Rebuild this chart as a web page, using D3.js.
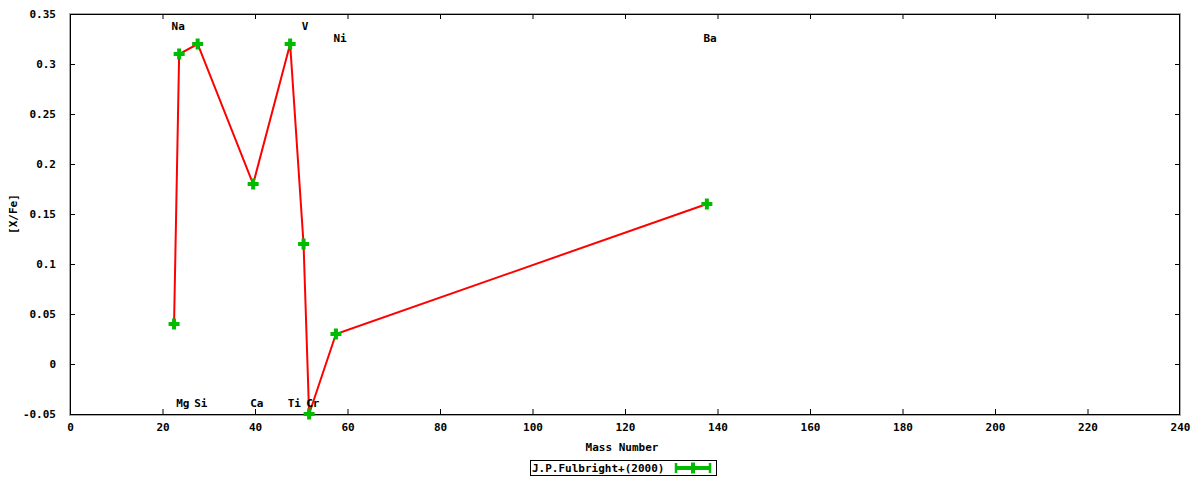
<!DOCTYPE html>
<html><head><meta charset="utf-8">
<script src="https://cdn.jsdelivr.net/npm/d3@7"></script>
<style>
html,body{margin:0;padding:0;background:#fff;}
text{font-family:"DejaVu Sans Mono",monospace;font-size:11px;font-weight:bold;fill:#000;}
</style></head>
<body><svg id="c" width="1200" height="480"></svg>
<script>
// data
const massNumber = [22.5, 23.6, 27.6, 39.6, 47.6, 50.5, 51.7, 57.5, 137.7];
const xFe        = [0.04, 0.31, 0.32, 0.18, 0.32, 0.12, -0.05, 0.03, 0.16];
const elements   = ["Na", "Mg", "Si", "Ca", "Ti", "V", "Cr", "Ni", "Ba"];
const labelX     = [23.4, 24.4, 28.3, 40.4, 48.5, 50.8, 52.5, 58.4, 138.4];
const labelY     = [0.338, -0.039, -0.039, -0.039, -0.039, 0.338, -0.039, 0.326, 0.326];
const xTicks = [0,20,40,60,80,100,120,140,160,180,200,220,240];
const yTicks = [-0.05,0,0.05,0.1,0.15,0.2,0.25,0.3,0.35];
const yTickLabels = ["-0.05","0","0.05","0.1","0.15","0.2","0.25","0.3","0.35"];
const legendLabel = "J.P.Fulbright+(2000)";

const L=70, R=1180, T=14, B=414;
const svg = d3.select("#c");
svg.append("rect").attr("width",1200).attr("height",480).attr("fill","#fff");
const x = d3.scaleLinear().domain([0,240]).range([L,R]);
const y = d3.scaleLinear().domain([-0.05,0.35]).range([B,T]);

// axes with inward ticks
const gx = svg.append("g").attr("transform",`translate(0,${B})`)
  .call(d3.axisBottom(x).tickValues(xTicks).tickSizeInner(-5).tickSizeOuter(0).tickPadding(9).tickFormat(d3.format("d")));
const gxt = svg.append("g").attr("transform",`translate(0,${T})`)
  .call(d3.axisTop(x).tickValues(xTicks).tickSizeInner(-5).tickSizeOuter(0).tickFormat(""));
const gy = svg.append("g").attr("transform",`translate(${L},0)`)
  .call(d3.axisLeft(y).tickValues(yTicks).tickSizeInner(-5).tickSizeOuter(0).tickPadding(14).tickFormat((d,i)=>yTickLabels[i]));
const gyr = svg.append("g").attr("transform",`translate(${R},0)`)
  .call(d3.axisRight(y).tickValues(yTicks).tickSizeInner(-5).tickSizeOuter(0).tickFormat(""));
[gx,gxt,gy,gyr].forEach(g=>{
  g.select(".domain").remove();
  g.selectAll("line").attr("stroke","#000");
  g.selectAll("text").attr("font-family",null).attr("font-size",null).style("font-weight","bold").attr("fill","#000");
});
gx.selectAll("text").attr("dy","0.32em").attr("y",13);

// border
svg.append("rect").attr("x",L+0.5).attr("y",T+0.5).attr("width",R-L-1).attr("height",B-T)
  .attr("fill","none").attr("stroke","#000").attr("stroke-width",1);
svg.append("rect").attr("x",L-0.5).attr("y",T-0.5).attr("width",R-L+1).attr("height",B-T+2)
  .attr("fill","none").attr("stroke","#aaa").attr("stroke-width",1);

// axis titles
svg.append("text").attr("x",622).attr("y",447).attr("dy","0.35em").attr("text-anchor","middle").text("Mass Number");
svg.append("text").attr("transform","translate(13,214) rotate(-90)").attr("dy","0.35em").attr("text-anchor","middle").text("[X/Fe]");

// data
const pts = massNumber.map((m,i)=>({m, v:xFe[i]}));
svg.append("path").datum(pts)
  .attr("d", d3.line().x(d=>x(d.m)).y(d=>y(d.v)))
  .attr("fill","none").attr("stroke","#ff0000").attr("stroke-width",2);

const plus = "M-2,-5.5H2V-2H5.5V2H2V5.5H-2V2H-5.5V-2H-2Z";
svg.selectAll(".pt").data(pts).join("path").attr("class","pt")
  .attr("transform",d=>`translate(${x(d.m)},${y(d.v)})`)
  .attr("d",plus).attr("fill","#00bb00");

// element labels
svg.selectAll(".lab").data(elements).join("text").attr("class","lab")
  .attr("x",(d,i)=>x(labelX[i])).attr("y",(d,i)=>y(labelY[i]))
  .attr("dy","0.35em").attr("text-anchor","middle").text(d=>d);

// legend
svg.append("rect").attr("x",530.5).attr("y",460.5).attr("width",186).attr("height",15)
  .attr("fill","#fff").attr("stroke","#000").attr("stroke-width",1);
svg.append("text").attr("x",532).attr("y",468).attr("dy","0.35em").text(legendLabel);
const ly=468;
svg.append("line").attr("x1",676).attr("x2",710).attr("y1",ly).attr("y2",ly).attr("stroke","#00bb00").attr("stroke-width",4);
[676,710].forEach(xx=>svg.append("line").attr("x1",xx).attr("x2",xx).attr("y1",ly-5).attr("y2",ly+5).attr("stroke","#00bb00").attr("stroke-width",2.5));
svg.append("path").attr("transform",`translate(693,${ly})`).attr("d",plus).attr("fill","#00bb00");
</script></body></html>
